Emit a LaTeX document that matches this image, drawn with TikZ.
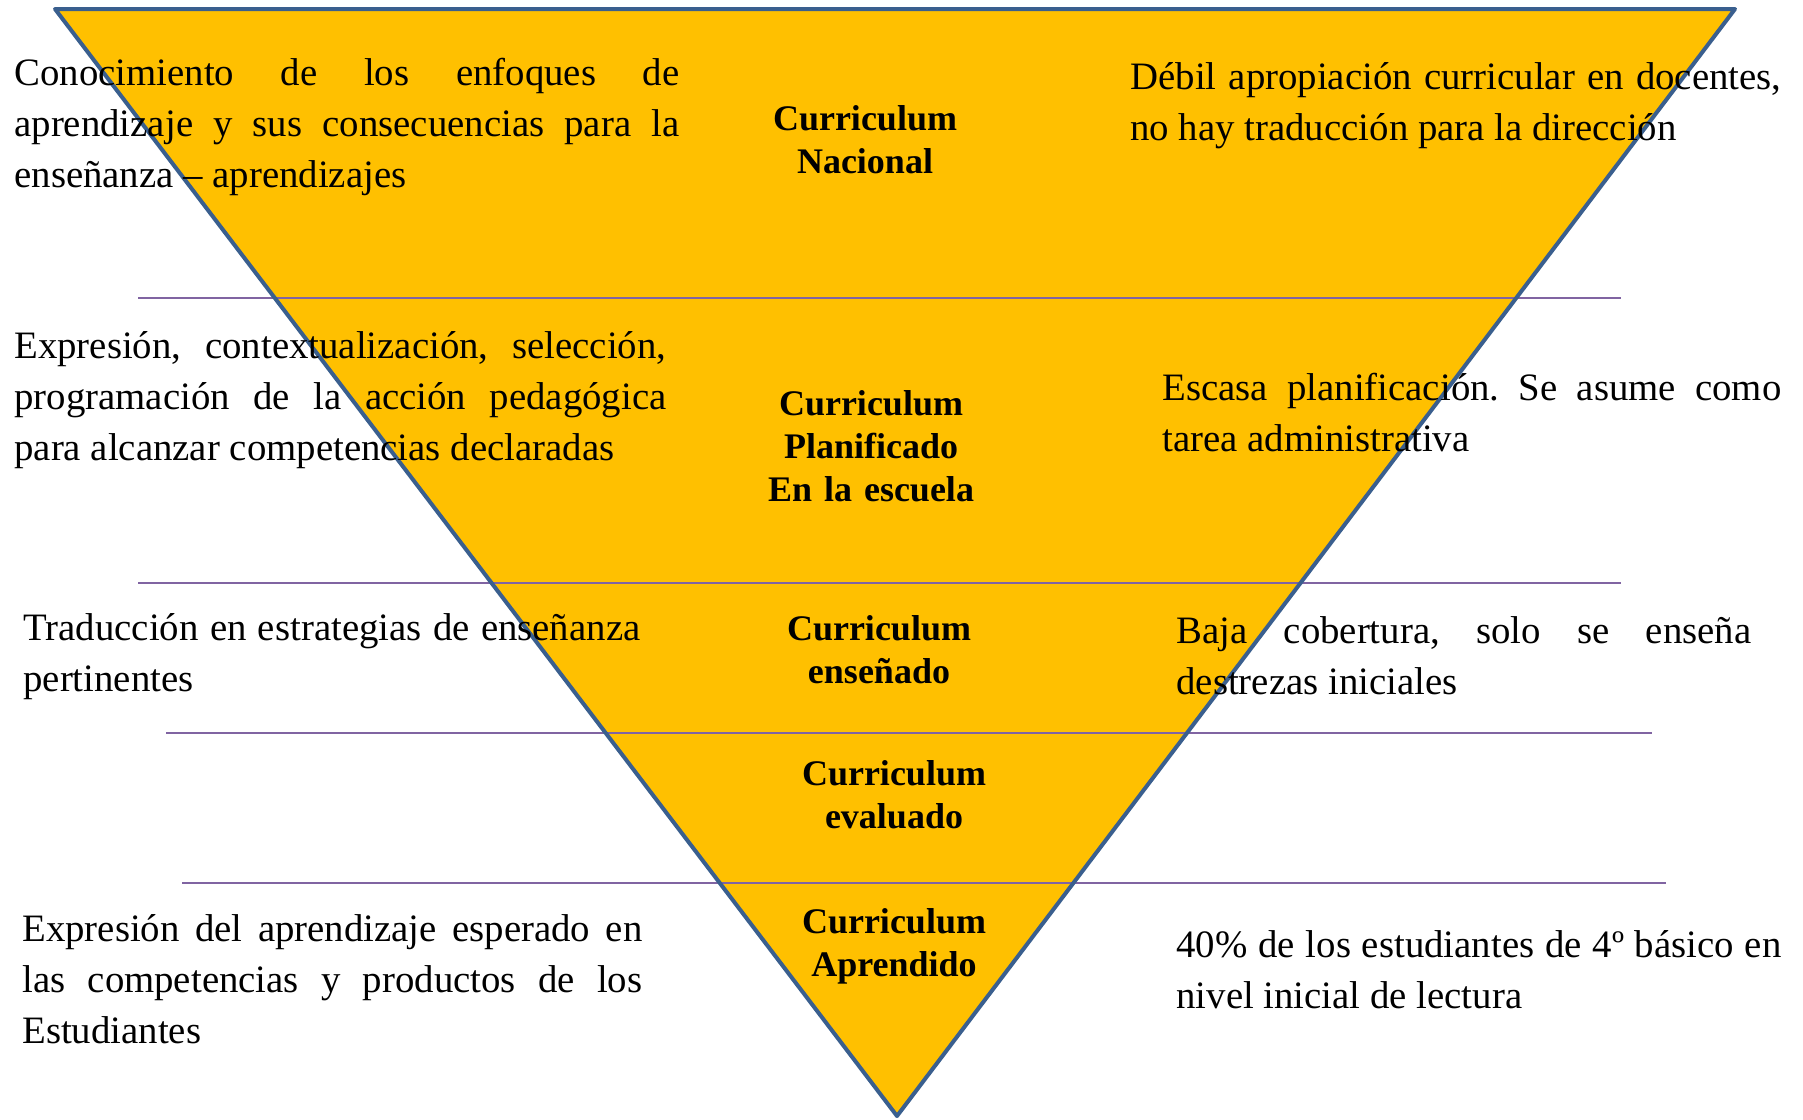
\documentclass[tikz,border=0pt]{standalone}
\usepackage{fontspec}
\setmainfont{Liberation Serif}
\usepackage{xcolor}
\definecolor{relleno}{HTML}{FFC000}
\definecolor{borde}{HTML}{3A5F8E}
\definecolor{corte}{HTML}{8064A2}
\hbadness=10000
\frenchspacing

\tikzset{
    nota/.style={anchor=base west, inner sep=0pt, align=justify,
        font=\fontsize{19.4}{25.5}\selectfont},
    nivel/.style={anchor=base, inner sep=0pt, text width=150pt, align=center,
        font=\fontsize{18}{21.5}\selectfont\bfseries},
    separador/.style={draw=corte, line width=1pt}
}

\begin{document}
\begin{tikzpicture}[x=0.5pt, y=-0.5pt]
    \useasboundingbox (0,0) rectangle (1803,1119);

    % embudo
    \coordinate (sup izq) at (55,9);
    \coordinate (sup der) at (1735,9);
    \coordinate (vertice) at (897,1116);
    \fill[relleno] (sup izq) -- (sup der) -- (vertice) -- cycle;

    % separadores de niveles
    \draw[separador] (138,298) -- (1621,298);
    \draw[separador] (138,583) -- (1621,583);
    \draw[separador] (166,733) -- (1652,733);
    \draw[separador] (182,883) -- (1666,883);

    \draw[borde, line width=2pt, line join=round] (sup izq) -- (sup der) -- (vertice) -- cycle;

    % niveles del curriculum
    \node[nivel] (nacional) at (865,130) {Curriculum\\Nacional};
    \node[nivel] (planificado) at (871,415) {Curriculum\\Planificado\\En la escuela};
    \node[nivel] (ensenado) at (879,640) {Curriculum\\enseñado};
    \node[nivel] (evaluado) at (894,785) {Curriculum\\evaluado};
    \node[nivel] (aprendido) at (894,933) {Curriculum\\Aprendido};

    % lado izquierdo
    \node[nota, text width=332.5pt] (izq nacional) at (14,85)
        {Conocimiento de los enfoques de\linebreak aprendizaje y sus consecuencias para la\linebreak enseñanza – aprendizajes};
    \node[nota, text width=326pt] (izq planificado) at (14,358)
        {Expresión, contextualización, selección,\linebreak programación de la acción pedagógica\linebreak para alcanzar competencias declaradas};
    \node[nota, text width=308.5pt] (izq ensenado) at (23,640)
        {Traducción en estrategias de enseñanza\linebreak pertinentes};
    \node[nota, text width=310pt] (izq aprendido) at (22,941)
        {Expresión del aprendizaje esperado en\linebreak las competencias y productos de los\linebreak Estudiantes};

    % lado derecho
    \node[nota, text width=325.5pt] (der nacional) at (1130,89)
        {Débil apropiación curricular en docentes,\linebreak no hay traducción para la dirección};
    \node[nota, text width=309.5pt] (der planificado) at (1162,400)
        {Escasa planificación. Se asume como\linebreak tarea administrativa};
    \node[nota, text width=287.5pt] (der ensenado) at (1176,643)
        {Baja cobertura, solo se enseña\linebreak destrezas iniciales};
    \node[nota, text width=302.5pt] (der aprendido) at (1176,957)
        {40\% de los estudiantes de 4º básico en\linebreak nivel inicial de lectura};
\end{tikzpicture}
\end{document}
